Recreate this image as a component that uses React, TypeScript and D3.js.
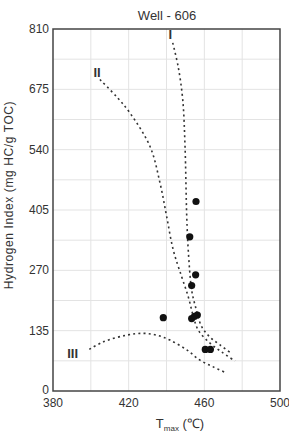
import React, { useEffect, useRef } from "react";
import * as d3 from "d3";

const W = 289;
const H = 434;

// Samples: Tmax (°C) and Hydrogen Index (mg HC/g TOC)
const sampleTmax = [455.6, 452.3, 455.4, 453.3, 438.3, 453.3, 456.3, 454.8, 460.5, 463.2];
const sampleHI = [424, 345, 260, 236, 164, 162, 170, 167, 93, 93];

// Kerogen type boundary curves
const typeITmax = [443.3, 446.2, 448.6, 449.8, 450.7, 451.5, 453.3, 455.1, 458.6, 462.9, 468.3, 474.6];
const typeIHI = [779, 725, 651, 547, 390, 315, 226, 192, 144, 121, 103, 83];
const typeIITmax = [404.8, 413.7, 420.7, 431.3, 436.6, 440.1, 443.6, 448.0, 451.5, 454.0, 456.8, 463.0, 469.3, 476.2];
const typeIIHI = [697, 658, 622, 547, 465, 390, 315, 256, 211, 170, 136, 107, 87, 67];
const typeIIITmax = [399.2, 406.6, 419.0, 427.7, 434.8, 441.8, 450.7, 457.7, 464.7, 471.8];
const typeIIIHI = [93, 110, 125, 129, 125, 114, 92, 69, 54, 40];

const xTicks = [380, 420, 460, 500];
const xGrid = [400, 420, 440, 460, 480];
const yTicks = [0, 135, 270, 405, 540, 675, 810];
const yGrid = [67.5, 135, 202.5, 270, 337.5, 405, 472.5, 540, 607.5, 675, 742.5];

const title = "Well - 606";
const yTitle = "Hydrogen Index (mg HC/g TOC)";

export default function App() {
  const ref = useRef<SVGSVGElement>(null);

  useEffect(() => {
    const svg = d3.select(ref.current);
    svg.selectAll("*").remove();

    const left = 53, right = 280, top = 29, bottom = 391;
    const x = d3.scaleLinear().domain([380, 500]).range([left, right]);
    const y = d3.scaleLinear().domain([0, 810]).range([bottom, top]);
    const font = "Liberation Sans, Arial, sans-serif";

    svg.append("rect").attr("width", W).attr("height", H).attr("fill", "#fff");

    const g = svg.append("g");
    g.selectAll("line.gx").data(xGrid).enter().append("line")
      .attr("x1", d => x(d)).attr("x2", d => x(d)).attr("y1", top).attr("y2", bottom)
      .attr("stroke", "#e3e3e3").attr("stroke-width", 1);
    g.selectAll("line.gy").data(yGrid).enter().append("line")
      .attr("y1", d => y(d)).attr("y2", d => y(d)).attr("x1", left).attr("x2", right)
      .attr("stroke", "#e3e3e3").attr("stroke-width", 1);

    const line = d3.line<[number, number]>().x(d => x(d[0])).y(d => y(d[1])).curve(d3.curveCatmullRom);
    const curves = [
      d3.zip(typeITmax, typeIHI),
      d3.zip(typeIITmax, typeIIHI),
      d3.zip(typeIIITmax, typeIIIHI),
    ] as [number, number][][];
    curves.forEach(c => {
      g.append("path").attr("d", line(c)).attr("fill", "none")
        .attr("stroke", "#333").attr("stroke-width", 1.6).attr("stroke-dasharray", "2,3.2");
    });

    g.selectAll("circle").data(d3.zip(sampleTmax, sampleHI)).enter().append("circle")
      .attr("cx", d => x(d[0])).attr("cy", d => y(d[1])).attr("r", 3.6).attr("fill", "#111");

    g.append("rect").attr("x", left).attr("y", top).attr("width", right - left).attr("height", bottom - top)
      .attr("fill", "none").attr("stroke", "#444").attr("stroke-width", 1.5);

    // curve labels
    const labels: [string, number, number][] = [
      ["I", typeITmax[0] - 1.3, typeIHI[0] + 8],
      ["II", typeIITmax[0] - 1.5, typeIIHI[0] + 6],
      ["III", typeIIITmax[0] - 8.8, typeIIIHI[0] - 20],
    ];
    labels.forEach(([t, tx, ty]) => {
      svg.append("text").attr("x", x(tx)).attr("y", y(ty)).attr("text-anchor", "middle")
        .attr("font-family", "Liberation Sans Narrow, Liberation Sans, sans-serif").attr("font-size", 13)
        .attr("font-weight", "bold").attr("fill", "#333").text(t);
    });

    svg.selectAll("text.yt").data(yTicks).enter().append("text")
      .attr("x", left - 4).attr("y", d => y(d) + (d === 0 ? 3 : 4)).attr("text-anchor", "end")
      .attr("font-family", font).attr("font-size", 12).attr("fill", "#333").text(d => d);
    svg.selectAll("text.xt").data(xTicks).enter().append("text")
      .attr("x", d => x(d)).attr("y", bottom + 16).attr("text-anchor", "middle")
      .attr("font-family", font).attr("font-size", 12).attr("fill", "#333").text(d => d);

    svg.append("text").attr("x", 167).attr("y", 20).attr("text-anchor", "middle")
      .attr("font-family", font).attr("font-size", 13).attr("fill", "#333").text(title);

    svg.append("text").attr("transform", "translate(13,195) rotate(-90)").attr("text-anchor", "middle")
      .attr("font-family", font).attr("font-size", 12).attr("letter-spacing", 0.6).attr("fill", "#333").text(yTitle);

    const xt = svg.append("text").attr("x", 180).attr("y", 428).attr("text-anchor", "middle")
      .attr("font-family", font).attr("font-size", 13).attr("fill", "#333");
    xt.append("tspan").text("T");
    xt.append("tspan").attr("font-size", 8).attr("dy", 3).text("max");
    xt.append("tspan").attr("dy", -3).text(" (℃)");
  }, []);

  return (
    <svg ref={ref} width={W} height={H} style={{ position: "absolute", left: 0, top: 0 }} />
  );
}
